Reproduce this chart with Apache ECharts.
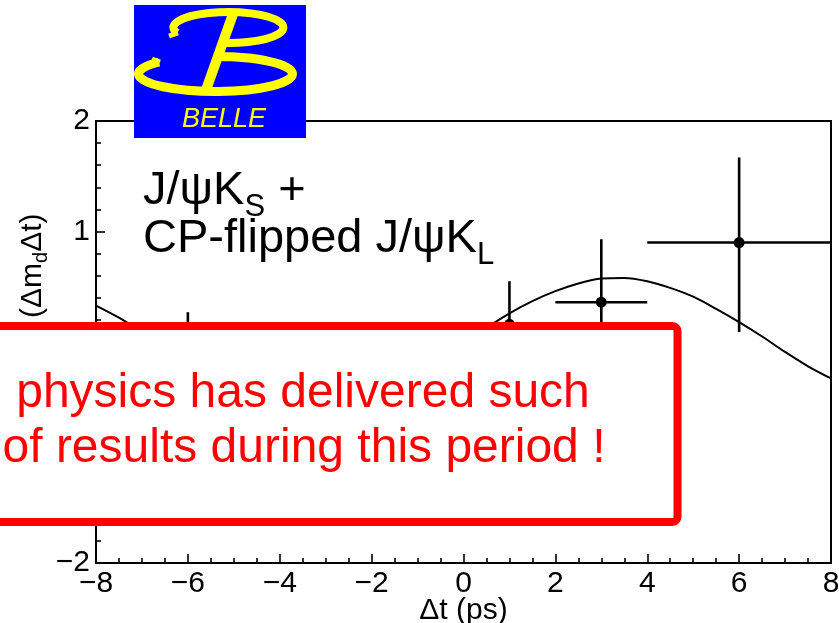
<!DOCTYPE html>
<html>
<head>
<meta charset="utf-8">
<script src="https://cdn.jsdelivr.net/npm/echarts@6/dist/echarts.min.js"></script>
<style>
  html, body { margin: 0; padding: 0; background: #fff; }
  #chart { width: 839px; height: 623px; }
</style>
</head>
<body>
<div id="chart"></div>
<script>
// Fitted asymmetry curve, sampled every 0.5 ps
const curveX = [-8, -7.5, -7, -6.5, -6, -5.5, -5, -4.5, -4, -3.5, -3, -2.5, -2, -1.5, -1, -0.5,
                0, 0.5, 1, 1.5, 2, 2.5, 3, 3.5, 4, 4.5, 5, 5.5, 6, 6.5, 7, 7.5, 8];
const curveY = [0.33, 0.22, 0.09, -0.05, -0.18, -0.30, -0.41, -0.49, -0.55, -0.58, -0.57, -0.53, -0.47, -0.38, -0.26, -0.13,
                0.00, 0.13, 0.26, 0.37, 0.46, 0.53, 0.575, 0.58, 0.55, 0.49, 0.41, 0.30, 0.18, 0.05, -0.09, -0.22, -0.33];

// Binned data points with errors
const ptX   = [-6, 1, 3, 6];
const ptY   = [-0.35, 0.16, 0.36, 0.90];
const ptXLo = [-8, 0.5, 2, 4];
const ptXHi = [-4, 1.5, 4, 8];
const ptYLo = [-0.97, -0.23, -0.21, 0.09];
const ptYHi = [0.27, 0.55, 0.93, 1.67];

// Axis ranges and ticks
const xMin = -8, xMax = 8, xStep = 2;
const yMin = -2, yMax = 2, yStep = 1;

const FONT = '"Liberation Sans", Arial, Helvetica, sans-serif';
const minus = v => String(v).replace('-', '\u2212');

const curveData = curveX.map((x, i) => [x, curveY[i]]);
const pointData = ptX.map((x, i) => [x, ptY[i], ptXLo[i], ptXHi[i], ptYLo[i], ptYHi[i]]);

// BELLE logo: blue plate with a stylised yellow "B"
function renderLogo() {
  const Y = '#ffff00';
  return {
    type: 'group',
    children: [
      { type: 'rect', shape: { x: 134, y: 5, width: 172, height: 133 }, style: { fill: '#0000fe' } },
      { type: 'path', shape: { pathData: 'M 177 33 A 55 15.5 0 1 1 229 43 L 221 43' },
        style: { fill: null, stroke: Y, lineWidth: 8 } },
      { type: 'path', shape: { pathData: 'M 178 33 L 169 36' },
        style: { fill: null, stroke: Y, lineWidth: 5 } },
      { type: 'path', shape: { pathData: 'M 159 62 A 77 17.5 0 1 0 232 56.8 L 218 56.8' },
        style: { fill: null, stroke: Y, lineWidth: 9 } },
      { type: 'path', shape: { pathData: 'M 160 62 L 152 59' },
        style: { fill: null, stroke: Y, lineWidth: 5 } },
      { type: 'line', shape: { x1: 233, y1: 14, x2: 206, y2: 90 },
        style: { stroke: Y, lineWidth: 10 } },
      { type: 'text', x: 182, y: 106,
        style: { text: 'BELLE', fontFamily: FONT, fontStyle: 'italic', fontSize: 27, fill: Y, align: 'left', verticalAlign: 'top' } }
    ]
  };
}

// rich-text styles: main tokens are lifted by bottom padding so subscripts sit lower
const annRich = {
  m: { fontFamily: FONT, fontSize: 47, color: '#000', verticalAlign: 'bottom', padding: [0, 0, 8, 0] },
  s: { fontFamily: FONT, fontSize: 31, color: '#000', verticalAlign: 'bottom' }
};

const chart = echarts.init(document.getElementById('chart'), null, { renderer: 'canvas' });

chart.setOption({
  animation: false,
  backgroundColor: '#ffffff',
  grid: {
    left: 96, right: 8, top: 121, bottom: 60,
    outerBoundsMode: 'none', containLabel: false,
    show: true, borderColor: '#000', borderWidth: 2, backgroundColor: 'transparent'
  },
  xAxis: {
    type: 'value', min: xMin, max: xMax, interval: xStep,
    name: '\u0394t (ps)', nameLocation: 'middle', nameGap: 33, nameMoveOverlap: false,
    nameTextStyle: { fontFamily: FONT, fontSize: 30, color: '#000' },
    axisLine: { onZero: false, lineStyle: { color: '#000', width: 2 } },
    axisTick: { inside: true, length: 9, lineStyle: { color: '#000', width: 1.6 } },
    minorTick: { show: true, splitNumber: 4, length: 5, lineStyle: { color: '#000', width: 1.6 } },
    splitLine: { show: false },
    axisLabel: { fontFamily: FONT, fontSize: 30, color: '#000', margin: 6, formatter: minus }
  },
  yAxis: {
    type: 'value', min: yMin, max: yMax, interval: yStep,
    axisLine: { onZero: false, lineStyle: { color: '#000', width: 2 } },
    axisTick: { inside: true, length: 9, lineStyle: { color: '#000', width: 1.6 } },
    minorTick: { show: true, splitNumber: 5, length: 5, lineStyle: { color: '#000', width: 1.6 } },
    splitLine: { show: false },
    axisLabel: { fontFamily: FONT, fontSize: 30, color: '#000', margin: 6, formatter: minus }
  },
  series: [
    {
      type: 'line',
      data: curveData,
      smooth: 0.3,
      showSymbol: false,
      lineStyle: { color: '#000', width: 2 },
      z: 3
    },
    {
      type: 'custom',
      data: pointData,
      z: 4,
      renderItem: function (params, api) {
        const x = api.value(0), y = api.value(1);
        const c = api.coord([x, y]);
        const l = api.coord([api.value(2), y]);
        const r = api.coord([api.value(3), y]);
        const lo = api.coord([x, api.value(4)]);
        const hi = api.coord([x, api.value(5)]);
        return {
          type: 'group',
          children: [
            { type: 'line', shape: { x1: l[0], y1: l[1], x2: r[0], y2: r[1] }, style: { stroke: '#000', lineWidth: 2.6 } },
            { type: 'line', shape: { x1: lo[0], y1: lo[1], x2: hi[0], y2: hi[1] }, style: { stroke: '#000', lineWidth: 2.6 } },
            { type: 'circle', shape: { cx: c[0], cy: c[1], r: 5.5 }, style: { fill: '#000' } }
          ]
        };
      }
    },
    {
      type: 'custom',
      coordinateSystem: 'none',
      data: [[0]],
      z: 100,
      silent: true,
      renderItem: renderLogo
    }
  ],
  graphic: [
    // rotated y-axis title
    {
      type: 'text', x: 33, y: 318, rotation: Math.PI / 2, z: 10,
      style: {
        text: '{m|(\u0394m}{s|d}{m|\u0394t)}',
        align: 'left', verticalAlign: 'middle',
        rich: {
          m: { fontFamily: FONT, fontSize: 30, color: '#000', lineHeight: 36 },
          s: { fontFamily: FONT, fontSize: 20, color: '#000', lineHeight: 20, verticalAlign: 'bottom' }
        }
      }
    },
    // decay-channel annotation
    {
      type: 'text', x: 143, y: 223, z: 10,
      style: { text: '{m|J/\u03c8K}{s|S}{m| +}', align: 'left', verticalAlign: 'bottom', rich: annRich }
    },
    {
      type: 'text', x: 143, y: 271, z: 10,
      style: { text: '{m|CP-flipped J/\u03c8K}{s|L}', align: 'left', verticalAlign: 'bottom', rich: annRich }
    },
    // callout box
    {
      type: 'rect', z: 100,
      shape: { x: -75, y: 326, width: 752.5, height: 196, r: 5 },
      style: { fill: '#ffffff', stroke: '#ff0000', lineWidth: 8 }
    },
    {
      type: 'text', x: 303, y: 394, z: 101,
      style: { text: 'physics has delivered such', fontFamily: FONT, fontSize: 48, fill: '#ff0000', align: 'center', verticalAlign: 'middle' }
    },
    {
      type: 'text', x: 304, y: 449, z: 101,
      style: { text: 'of results during this period !', fontFamily: FONT, fontSize: 48, fill: '#ff0000', align: 'center', verticalAlign: 'middle' }
    }
  ]
});
</script>
</body>
</html>
